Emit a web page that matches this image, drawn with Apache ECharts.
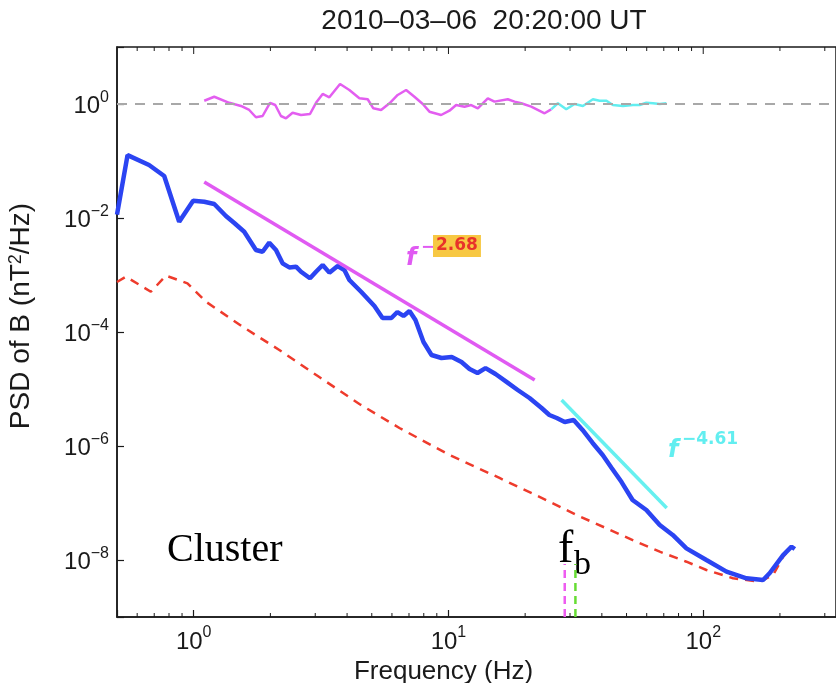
<!DOCTYPE html>
<html>
<head>
<meta charset="utf-8">
<script src="https://cdn.jsdelivr.net/npm/echarts@6/dist/echarts.min.js"></script>
<style>html,body{margin:0;padding:0;background:#fff}#chart{width:836px;height:683px}</style>
</head>
<body>
<div id="chart"></div>
<script>
// ---- data ----
const titleText = '2010\u201303\u201306  20:20:00 UT';
const freqBlue = [0.5, 0.55, 0.668, 0.766, 0.877, 0.995, 1.10, 1.204, 1.338, 1.443, 1.579, 1.755, 1.864, 1.98, 2.104, 2.233, 2.373, 2.521, 2.638, 2.861, 3.021, 3.208, 3.408, 3.673, 3.904, 4.083, 4.55, 5.12, 5.51, 5.97, 6.30, 6.66, 7.03, 7.42, 7.98, 8.58, 9.39, 10.3, 11.25, 12.1, 13.0, 13.98, 15.3, 16.9, 18.7, 20.8, 23.2, 24.9, 26.6, 28.6, 31.0, 33.6, 36.8, 40.3, 43.7, 47.8, 52.8, 59.8, 67.5, 75.9, 85.9, 102.9, 123.4, 147.8, 171.8, 182.5, 205.9, 222.2, 228.8];
const psdBlue = [1.15e-2, 0.127, 0.085, 0.0546, 0.0086, 0.0201, 0.0193, 0.0176, 0.01084, 0.00817, 0.00575, 0.00275, 0.00256, 0.00369, 0.00275, 0.0016, 0.00136, 0.0014, 0.00114, 0.000875, 0.00114, 0.0015, 0.0011, 0.00144, 0.00122, 0.000817, 5.03e-4, 2.86e-4, 1.76e-4, 1.76e-4, 2.24e-4, 1.91e-4, 2.33e-4, 1.62e-4, 6.68e-5, 3.95e-5, 3.5e-5, 3.64e-5, 2.98e-5, 2.24e-5, 1.91e-5, 2.33e-5, 1.83e-5, 1.33e-5, 9.6e-6, 6.95e-6, 4.64e-6, 3.5e-6, 3.1e-6, 2.64e-6, 2.86e-6, 1.91e-6, 1.13e-6, 6.95e-7, 4.11e-7, 2.33e-7, 1.13e-7, 7.53e-8, 4.11e-8, 2.75e-8, 1.6e-8, 1.0e-8, 6.24e-9, 4.78e-9, 4.46e-9, 5.91e-9, 1.22e-8, 1.71e-8, 1.56e-8];
const freqRed = [0.5, 0.542, 0.679, 0.778, 0.945, 1.117, 1.555, 2.168, 3.112, 4.47, 6.42, 10.09, 15.86, 25.7, 31.8, 41.7, 54.6, 67.5, 85.9, 102.9, 130.9, 166.7, 188.1, 205.9, 212.3];
const psdRed = [7.54e-4, 9.33e-4, 5.09e-4, 9.72e-4, 7.15e-4, 3.4e-4, 1.24e-4, 4.83e-5, 1.62e-5, 5.46e-6, 2.07e-6, 6.95e-7, 2.75e-7, 9.88e-8, 6.15e-8, 3.6e-8, 2.09e-8, 1.4e-8, 9.33e-9, 6.68e-9, 4.78e-9, 4.16e-9, 5.46e-9, 1.14e-8, 1.33e-8];
const freqRatioM = [1.10, 1.204, 1.379, 1.533, 1.652, 1.755, 1.864, 1.993, 2.09, 2.20, 2.303, 2.445, 2.638, 2.861, 3.021, 3.208, 3.408, 3.754, 4.083, 4.47, 4.82, 5.07, 5.44, 5.87, 6.32, 6.82, 7.35, 7.93, 8.42, 9.36, 10.09, 10.72, 11.56, 12.28, 13.04, 14.27, 15.16, 17.1, 18.17, 19.31, 21.13, 23.84, 25.3];
const ratioM = [1.14, 1.34, 1.05, 0.923, 0.785, 0.585, 0.616, 1.05, 0.96, 0.616, 0.561, 0.704, 0.641, 0.668, 1.05, 1.50, 1.31, 2.24, 1.76, 1.26, 1.21, 0.84, 0.785, 1.03, 1.44, 1.76, 1.34, 1.0, 0.733, 0.641, 0.763, 0.96, 0.897, 0.96, 0.84, 1.26, 1.10, 1.21, 1.10, 1.03, 0.897, 0.687, 0.807];
const freqRatioC = [25.3, 26.88, 29.0, 31.27, 33.7, 36.9, 39.2, 41.7, 44.2, 48.4, 53.0, 56.3, 59.8, 63.5, 67.5, 71.7];
const ratioC = [0.807, 1.03, 0.807, 1.0, 0.923, 1.21, 1.14, 1.14, 0.96, 0.923, 0.96, 0.96, 1.05, 1.03, 1.0, 1.03];
const fitSteepF = [1.10, 21.8];
const fitSteepP = [0.0428, 1.44e-5];
const fitHighF = [27.8, 71.9];
const fitHighP = [6.41e-6, 8.17e-8];
const fbFreqs = [28.6, 31.5];      // magenta, green break markers
const fbSpan = [1e-9, 8.5e-9];
const refLevel = 1;
const xRange = [0.5, 332];
const yRange = [1e-9, 10];
const minorTickVals = [0.6, 0.7, 0.8, 0.9, 2, 3, 4, 5, 6, 7, 8, 9, 20, 30, 40, 50, 60, 70, 80, 90, 200, 300];
const majorTickVals = [1, 10, 100];
const slopeSteep = '\u22122.68';
const slopeHigh = '\u22124.61';

// ---- helpers ----
const zip = (a, b) => a.map((v, i) => [v, b[i]]);
const FONT = 'Liberation Sans';
function powLabel(v, evenOnly) {
  const l = Math.log10(v);
  const e = Math.round(l);
  if (Math.abs(l - e) > 1e-6) return '';
  if (evenOnly && e % 2 !== 0) return '';
  return '{b|10}{s|' + String(e).replace('-', '\u2212') + '}';
}
const labelRich = {
  b: { fontSize: 24, fontFamily: FONT, color: '#1a1a1a', padding: [5, 0, 0, 0], verticalAlign: 'bottom' },
  s: { fontSize: 16, fontFamily: FONT, color: '#1a1a1a', verticalAlign: 'top' }
};

const chart = echarts.init(document.getElementById('chart'));
chart.setOption({
  animation: false,
  backgroundColor: '#fff',
  title: {
    text: titleText, left: 479, top: 2, textAlign: 'center',
    textStyle: { fontFamily: FONT, fontSize: 28, fontWeight: 'normal', color: '#1a1a1a' }
  },
  grid: { left: 117, top: 47, right: 0, bottom: 66, show: true, borderColor: '#1a1a1a', borderWidth: 1.5, outerBoundsMode: 'none', containLabel: false },
  xAxis: {
    type: 'log', logBase: 10, min: xRange[0], max: xRange[1],
    name: 'Frequency (Hz)', nameLocation: 'middle', nameGap: 30,
    nameTextStyle: { fontFamily: FONT, fontSize: 26, color: '#1a1a1a', padding: [0, 66, 0, 0] },
    axisLine: { lineStyle: { color: '#1a1a1a', width: 1.5 } },
    axisTick: { inside: true, length: 7, lineStyle: { color: '#1a1a1a', width: 1.2 } },
    axisLabel: { formatter: v => powLabel(v, false), rich: labelRich, margin: 8 },
    splitLine: { show: false }
  },
  yAxis: {
    type: 'log', logBase: 100, min: yRange[0], max: yRange[1],
    name: 'PSD of B (nT{s|2}/Hz)', nameLocation: 'middle', nameGap: 82, nameRotate: 90,
    nameTextStyle: { fontFamily: FONT, fontSize: 28, color: '#1a1a1a', padding: [0, 0, 0, 32],
      rich: { s: { fontSize: 18, fontFamily: FONT, color: '#1a1a1a', verticalAlign: 'top' } } },
    axisLine: { lineStyle: { color: '#1a1a1a', width: 1.5 } },
    axisTick: { inside: true, length: 7, lineStyle: { color: '#1a1a1a', width: 1.2 } },
    axisLabel: { formatter: v => powLabel(v, true), rich: labelRich, margin: 8 },
    splitLine: { show: false }
  },
  graphic: [
    { type: 'text', x: 167, y: 550, style: { text: 'Cluster', font: '40px "Liberation Serif"', fill: '#000', verticalAlign: 'middle' } },
    { type: 'text', x: 558, y: 550, style: { text: 'f', font: '46px "Liberation Serif"', fill: '#000', verticalAlign: 'middle' } },
    { type: 'text', x: 574, y: 565, style: { text: 'b', font: '34px "Liberation Serif"', fill: '#000', verticalAlign: 'middle' } },
    { type: 'text', x: 406, y: 259, style: { text: 'f', font: 'italic bold 24px "DejaVu Sans"', fill: '#e05af2', verticalAlign: 'middle' } },
    { type: 'text', x: 421, y: 248, style: { text: '\u2212', font: 'bold 17px "DejaVu Sans"', fill: '#e05af2', verticalAlign: 'middle' } },
    { type: 'text', x: 433, y: 246, style: { text: slopeSteep.slice(1), font: 'bold 17px "DejaVu Sans"', fill: '#e8322a', verticalAlign: 'middle', backgroundColor: '#f7c843', padding: [3, 3, 2, 3] } },
    { type: 'text', x: 668, y: 451, style: { text: 'f', font: 'italic bold 24px "DejaVu Sans"', fill: '#62eef0', verticalAlign: 'middle' } },
    { type: 'text', x: 682, y: 440, style: { text: slopeHigh, font: 'bold 17px "DejaVu Sans"', fill: '#62eef0', verticalAlign: 'middle' } }
  ],
  series: [
    {
      type: 'line', name: 'ratio', data: zip(freqRatioM, ratioM), showSymbol: false, z: 3,
      lineStyle: { color: '#e35ef0', width: 2.5 },
      markLine: { silent: true, symbol: 'none', label: { show: false },
        lineStyle: { color: '#a8a8a8', width: 2, type: [10, 8] }, data: [{ yAxis: refLevel }] }
    },
    { type: 'line', name: 'ratioHigh', data: zip(freqRatioC, ratioC), showSymbol: false, z: 3, lineStyle: { color: '#62eef0', width: 2.5 } },
    { type: 'line', name: 'noise', data: zip(freqRed, psdRed), showSymbol: false, z: 4, lineStyle: { color: '#ee3b2c', width: 2.5, type: [9, 7] } },
    { type: 'line', name: 'PSD', data: zip(freqBlue, psdBlue), showSymbol: false, z: 5, lineStyle: { color: '#2b44f2', width: 4.5 } },
    { type: 'line', name: 'fit1', data: zip(fitSteepF, fitSteepP), showSymbol: false, z: 6, lineStyle: { color: '#e05af2', width: 3.5 } },
    { type: 'line', name: 'fit2', data: zip(fitHighF, fitHighP), showSymbol: false, z: 6, lineStyle: { color: '#66f0f0', width: 3.5 } },
    { type: 'line', name: 'fbM', data: [[fbFreqs[0], fbSpan[0]], [fbFreqs[0], fbSpan[1]]], showSymbol: false, z: 6, lineStyle: { color: '#ee5cf0', width: 2.5, type: [8, 5] } },
    { type: 'line', name: 'fbG', data: [[fbFreqs[1], fbSpan[0]], [fbFreqs[1], fbSpan[1]]], showSymbol: false, z: 6, lineStyle: { color: '#66dd33', width: 2.5, type: [8, 5] } },
    {
      type: 'custom', name: 'ticks', silent: true, z: 10,
      data: minorTickVals.map(v => [v, 0]).concat(majorTickVals.map(v => [v, 1])),
      encode: { x: 0 },
      renderItem: function (params, api) {
        const v = api.value(0);
        const major = api.value(1) === 1;
        const b = api.coord([v, yRange[0]]);
        const t = api.coord([v, yRange[1]]);
        const len = major ? 7 : 4;
        const st = { stroke: '#1a1a1a', lineWidth: 1 };
        const kids = [{ type: 'line', shape: { x1: t[0], y1: t[1], x2: t[0], y2: t[1] + len }, style: st }];
        if (!major) kids.push({ type: 'line', shape: { x1: b[0], y1: b[1], x2: b[0], y2: b[1] - len }, style: st });
        return { type: 'group', children: kids };
      }
    }
  ]
});
</script>
</body>
</html>
